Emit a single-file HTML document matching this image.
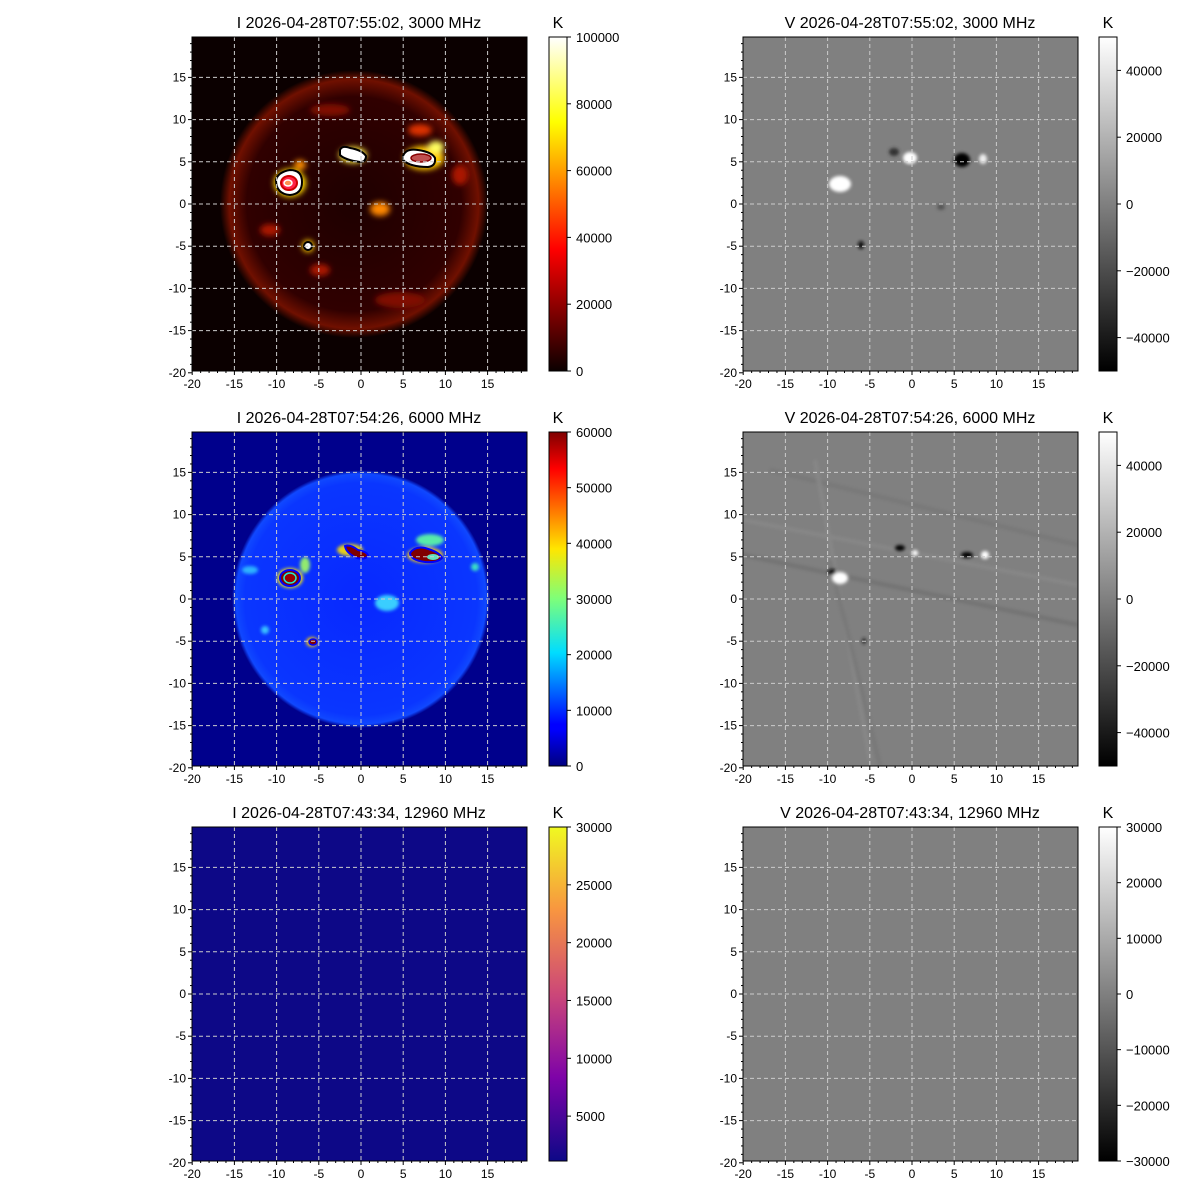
<!DOCTYPE html>
<html><head><meta charset="utf-8"><style>
body{margin:0;background:#fff;width:1200px;height:1200px;overflow:hidden}
svg{display:block;font-family:"Liberation Sans","DejaVu Sans",sans-serif}
</style></head><body>
<svg id="s" width="1200" height="1200" xmlns="http://www.w3.org/2000/svg">
<defs>
<linearGradient id="hot" x1="0" y1="1" x2="0" y2="0">
<stop offset="0" stop-color="#0b0000"/><stop offset="0.365" stop-color="#ff0000"/><stop offset="0.746" stop-color="#ffff00"/><stop offset="1" stop-color="#ffffff"/></linearGradient>
<linearGradient id="jet" x1="0" y1="1" x2="0" y2="0">
<stop offset="0" stop-color="#00007f"/><stop offset="0.11" stop-color="#0000ff"/><stop offset="0.125" stop-color="#0000ff"/><stop offset="0.34" stop-color="#00ddff"/><stop offset="0.5" stop-color="#7dff7a"/><stop offset="0.65" stop-color="#ffe600"/><stop offset="0.89" stop-color="#ff0000"/><stop offset="1" stop-color="#7f0000"/></linearGradient>
<linearGradient id="plasma" x1="0" y1="1" x2="0" y2="0">
<stop offset="0" stop-color="#0d0887"/><stop offset="0.25" stop-color="#7e03a8"/><stop offset="0.5" stop-color="#cc4778"/><stop offset="0.75" stop-color="#f89540"/><stop offset="1" stop-color="#f0f921"/></linearGradient>
<linearGradient id="gray" x1="0" y1="1" x2="0" y2="0"><stop offset="0" stop-color="#000"/><stop offset="1" stop-color="#fff"/></linearGradient>
<radialGradient id="disk1"><stop offset="0" stop-color="#1e0000"/><stop offset="0.8" stop-color="#300000"/><stop offset="0.93" stop-color="#701000"/><stop offset="1" stop-color="#0b0000"/></radialGradient>
<radialGradient id="disk2"><stop offset="0" stop-color="#0828ff"/><stop offset="0.9" stop-color="#0a36ff"/><stop offset="0.97" stop-color="#1048ff"/><stop offset="1" stop-color="#00008c"/></radialGradient>
<filter id="bl"><feGaussianBlur stdDeviation="3"/></filter>
<filter id="bl2"><feGaussianBlur stdDeviation="1.5"/></filter>
<clipPath id="c1"><rect x="192" y="37" width="335" height="334"/></clipPath>
<clipPath id="c2"><rect x="192" y="432" width="335" height="334"/></clipPath>
<clipPath id="c4"><rect x="743" y="432" width="335" height="334"/></clipPath>
</defs>
<rect x="192" y="37" width="335" height="334" fill="#0b0000"/>
<g clip-path="url(#c1)">
<circle cx="354" cy="204" r="134" fill="url(#disk1)"/>
<g filter="url(#bl)">
<ellipse cx="290" cy="183" rx="16" ry="14" fill="#ffdd00"/>
<ellipse cx="353" cy="155" rx="14" ry="8" fill="#ffee40"/>
<ellipse cx="424" cy="158" rx="20" ry="12" fill="#ffcc00"/>
<ellipse cx="436" cy="147" rx="8" ry="6" fill="#ffff60"/>
<ellipse cx="380" cy="209" rx="10" ry="7" fill="#ff8800"/>
<ellipse cx="308" cy="246" rx="6" ry="6" fill="#ffd000"/>
<ellipse cx="300" cy="165" rx="6" ry="5" fill="#ff9000"/>
<ellipse cx="420" cy="130" rx="12" ry="6" fill="#dd3000"/>
<ellipse cx="270" cy="230" rx="10" ry="6" fill="#aa1800"/>
<ellipse cx="320" cy="270" rx="10" ry="6" fill="#aa1800"/>
<ellipse cx="460" cy="175" rx="8" ry="10" fill="#aa1800"/>
<ellipse cx="330" cy="110" rx="20" ry="6" fill="#801000"/>
<ellipse cx="400" cy="300" rx="25" ry="8" fill="#801000"/>
</g>
<path d="M276,180 Q278,172 290,170 Q302,170 302,182 Q302,194 290,195 Q276,194 276,180Z" fill="#fff" stroke="#000" stroke-width="2"/>
<ellipse cx="289" cy="183" rx="8" ry="7" fill="#f24" stroke="#c00" stroke-width="2"/>
<ellipse cx="288" cy="183" rx="4" ry="3" fill="#ff9050" stroke="#fff" stroke-width="1.5"/>
<path d="M340,150 Q342,145 350,148 Q362,150 366,156 Q366,162 360,162 Q345,160 340,155Z" fill="#fff" stroke="#000" stroke-width="2"/>
<path d="M403,156 Q406,148 418,150 Q432,152 435,158 Q436,166 428,167 Q410,167 403,160Z" fill="#fff" stroke="#000" stroke-width="2"/>
<ellipse cx="421" cy="158" rx="10" ry="4" fill="#c05050" stroke="#800" stroke-width="1.5"/>
<circle cx="308" cy="246" r="4" fill="#fff" stroke="#000" stroke-width="2"/>
</g>
<rect x="192" y="432" width="335" height="334" fill="#00008c"/>
<g clip-path="url(#c2)">
<circle cx="361" cy="599" r="129" fill="url(#disk2)"/>
<g filter="url(#bl2)" opacity="0.9">
<ellipse cx="290" cy="578" rx="13" ry="10" fill="#ffee00"/>
<ellipse cx="305" cy="565" rx="5" ry="8" fill="#a0ff60"/>
<ellipse cx="350" cy="550" rx="13" ry="6" fill="#ffe000"/>
<ellipse cx="425" cy="555" rx="18" ry="8" fill="#ffd000"/>
<ellipse cx="430" cy="540" rx="14" ry="6" fill="#60ffa0"/>
<ellipse cx="387" cy="603" rx="12" ry="8" fill="#40e0ff"/>
<ellipse cx="312" cy="642" rx="6" ry="5" fill="#ffcc00"/>
<ellipse cx="250" cy="570" rx="8" ry="4" fill="#30c0ff"/>
<ellipse cx="475" cy="567" rx="4" ry="4" fill="#40f0c0"/>
<ellipse cx="265" cy="630" rx="4" ry="4" fill="#40d0ff"/>
</g>
<ellipse cx="290" cy="578" rx="10" ry="8" fill="#800000" stroke="#0000ff" stroke-width="2"/>
<ellipse cx="290" cy="578" rx="6" ry="5" fill="#900" stroke="#2ec" stroke-width="1.5"/>
<path d="M345,546 Q350,544 358,550 Q368,552 368,556 Q365,560 357,558 Q346,553 345,546Z" fill="#800000" stroke="#00f" stroke-width="2"/>
<path d="M410,553 Q415,546 425,548 Q440,552 442,558 Q438,563 425,562 Q410,560 410,553Z" fill="#800000" stroke="#00f" stroke-width="2"/>
<ellipse cx="433" cy="557" rx="6" ry="3" fill="#60e0c0"/>
<ellipse cx="313" cy="642" rx="4" ry="3" fill="#800000" stroke="#00f" stroke-width="1.5"/>
</g>
<rect x="192" y="827" width="335" height="334" fill="#0d0887"/>
<rect x="743" y="37" width="335" height="334" fill="#808080"/>
<rect x="743" y="432" width="335" height="334" fill="#808080"/>
<rect x="743" y="827" width="335" height="334" fill="#808080"/>
<g filter="url(#bl2)">
<ellipse cx="840" cy="184" rx="11" ry="8" fill="#fff"/>
<ellipse cx="910" cy="158" rx="7" ry="6" fill="#fff"/>
<ellipse cx="962" cy="160" rx="8" ry="7" fill="#000"/>
<ellipse cx="983" cy="159" rx="4" ry="5" fill="#eee"/>
<ellipse cx="894" cy="152" rx="5" ry="4" fill="#333"/>
<ellipse cx="861" cy="245" rx="3" ry="4" fill="#111"/>
<ellipse cx="941" cy="207" rx="4" ry="3" fill="#555"/>
</g>
<g clip-path="url(#c4)">
<g opacity="0.3" stroke-width="4" filter="url(#bl2)">
<line x1="743" y1="555" x2="1078" y2="625" stroke="#555"/>
<line x1="743" y1="520" x2="1078" y2="585" stroke="#999"/>
<line x1="770" y1="470" x2="1078" y2="545" stroke="#666"/>
<line x1="815" y1="460" x2="870" y2="760" stroke="#999"/>
<line x1="830" y1="560" x2="880" y2="766" stroke="#666"/>
</g>
<g filter="url(#bl2)">
<ellipse cx="840" cy="578" rx="8" ry="6" fill="#fff"/>
<ellipse cx="832" cy="572" rx="4" ry="3" fill="#111"/>
<ellipse cx="900" cy="548" rx="5" ry="3" fill="#000"/>
<ellipse cx="915" cy="553" rx="3" ry="3" fill="#fff"/>
<ellipse cx="967" cy="555" rx="6" ry="3" fill="#000"/>
<ellipse cx="985" cy="555" rx="4" ry="4" fill="#fff"/>
<ellipse cx="864" cy="641" rx="2" ry="3" fill="#222"/>
</g>
</g>
<rect x="549" y="37" width="18" height="334" fill="url(#hot)" stroke="#000"/>
<rect x="549" y="432" width="18" height="334" fill="url(#jet)" stroke="#000"/>
<rect x="549" y="827" width="18" height="334" fill="url(#plasma)" stroke="#000"/>
<rect x="1099" y="37" width="18" height="334" fill="url(#gray)" stroke="#000"/>
<rect x="1099" y="432" width="18" height="334" fill="url(#gray)" stroke="#000"/>
<rect x="1099" y="827" width="18" height="334" fill="url(#gray)" stroke="#000"/>
<g id="dyn"></g>
</svg>
<script>
(function(){
var g=document.getElementById('dyn'),h='';
var u=8.44;
function t(x,y,s,a,sz){h+='<text x="'+x+'" y="'+y+'" text-anchor="'+a+'" font-size="'+(sz||13)+'">'+s+'</text>';}
var titles=[["I 2026-04-28T07:55:02, 3000 MHz","V 2026-04-28T07:55:02, 3000 MHz"],["I 2026-04-28T07:54:26, 6000 MHz","V 2026-04-28T07:54:26, 6000 MHz"],["I 2026-04-28T07:43:34, 12960 MHz","V 2026-04-28T07:43:34, 12960 MHz"]];
for(var r=0;r<3;r++){var tp=37+395*r,y0=tp+167;
 for(var c=0;c<2;c++){var L=c?743:192,x0=L+169;
  for(var v=-15;v<=15;v+=5){var X=x0+v*u,Y=y0-v*u;
   h+='<line x1="'+X+'" y1="'+tp+'" x2="'+X+'" y2="'+(tp+334)+'" stroke="#ccc" stroke-dasharray="4,3" stroke-width="1"/>';
   h+='<line x1="'+L+'" y1="'+Y+'" x2="'+(L+335)+'" y2="'+Y+'" stroke="#ccc" stroke-dasharray="4,3" stroke-width="1"/>';}
  h+='<rect x="'+L+'" y="'+tp+'" width="335" height="334" fill="none" stroke="#000"/>';
  for(var v=-20;v<=19;v++){var X=x0+v*u,Y=y0-v*u,mj=v%5==0,l=mj?4:2;
   h+='<line x1="'+X+'" y1="'+(tp+334)+'" x2="'+X+'" y2="'+(tp+334+l)+'" stroke="#000"/>';
   h+='<line x1="'+L+'" y1="'+Y+'" x2="'+(L-l)+'" y2="'+Y+'" stroke="#000"/>';
   if(mj){t(X,tp+334+17,v,'middle',12);t(L-6,Y+4,v,'end',12);}}
  t(L+167,tp-9,titles[r][c],'middle',16);
  t(c?1108:558,tp-9,'K','middle',16);
 }}
function cb(x,tp,vals,lo,hi){vals.forEach(function(v){var Y=tp+334-(v-lo)/(hi-lo)*334;h+='<line x1="'+(x+18)+'" y1="'+Y+'" x2="'+(x+22)+'" y2="'+Y+'" stroke="#000"/>';t(x+27,Y+5,String(v).replace('-','\u2212'),'start',13);});}
cb(549,37,[0,20000,40000,60000,80000,100000],0,100000);
cb(549,432,[0,10000,20000,30000,40000,50000,60000],0,60000);
cb(549,827,[5000,10000,15000,20000,25000,30000],1120,30000);
cb(1099,37,[-40000,-20000,0,20000,40000],-50000,50000);
cb(1099,432,[-40000,-20000,0,20000,40000],-50000,50000);
cb(1099,827,[-30000,-20000,-10000,0,10000,20000,30000],-30000,30000);
g.innerHTML=h;
})();
</script>
</body></html>
